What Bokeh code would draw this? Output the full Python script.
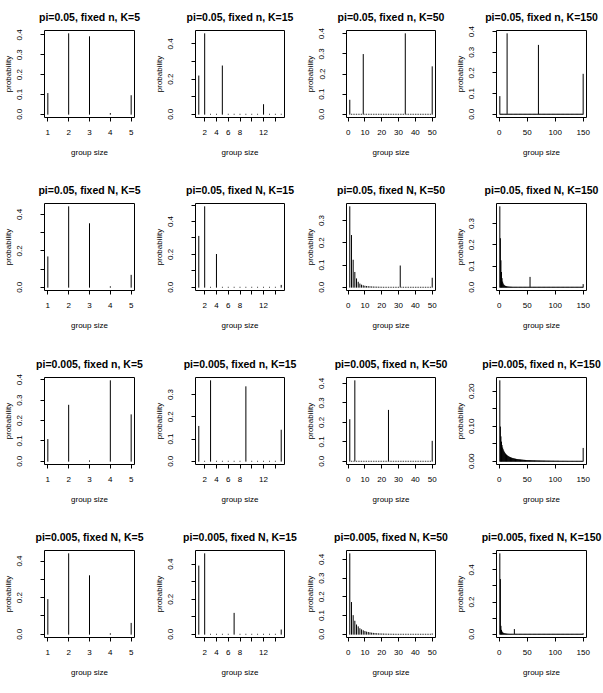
from bokeh.plotting import figure
from bokeh.layouts import column, row
from bokeh.models import Range1d, FixedTicker
from bokeh.embed import file_html
from bokeh.resources import INLINE

FONT = "Liberation Sans"

titles = [
    "pi=0.05, fixed n, K=5", "pi=0.05, fixed n, K=15", "pi=0.05, fixed n, K=50", "pi=0.05, fixed n, K=150",
    "pi=0.05, fixed N, K=5", "pi=0.05, fixed N, K=15", "pi=0.05, fixed N, K=50", "pi=0.05, fixed N, K=150",
    "pi=0.005, fixed n, K=5", "pi=0.005, fixed n, K=15", "pi=0.005, fixed n, K=50", "pi=0.005, fixed n, K=150",
    "pi=0.005, fixed N, K=5", "pi=0.005, fixed N, K=15", "pi=0.005, fixed N, K=50", "pi=0.005, fixed N, K=150",
]
K_values = [5, 15, 50, 150]

# probabilities for group sizes 1,2,3,... (head) plus isolated spikes (size, prob); other sizes are 0
head_11 = [0.105, 0.406, 0.391, 0.004, 0.094]
spike_x_11, spike_p_11 = [], []
head_12 = [0.218, 0.458]
spike_x_12, spike_p_12 = [5, 12], [0.275, 0.055]
head_13 = [0.070]
spike_x_13, spike_p_13 = [9, 34, 50], [0.297, 0.400, 0.236]
head_14 = [0.086]
spike_x_14, spike_p_14 = [14, 70, 150], [0.390, 0.334, 0.194]

head_21 = [0.167, 0.442, 0.349, 0.003, 0.066]
spike_x_21, spike_p_21 = [], []
head_22 = [0.310, 0.490, 0.0, 0.200]
spike_x_22, spike_p_22 = [15], [0.012]
head_23 = [0.362, 0.233, 0.122, 0.067, 0.038, 0.023, 0.015, 0.010, 0.007, 0.005,
           0.004, 0.003, 0.0025, 0.002, 0.0015, 0.0012, 0.001, 0.0008, 0.0006, 0.0005]
spike_x_23, spike_p_23 = [31, 50], [0.096, 0.041]
head_24 = [0.379, 0.229, 0.125, 0.070, 0.041, 0.025, 0.016, 0.011, 0.008, 0.006,
           0.0045, 0.0035, 0.0028, 0.0022, 0.0018, 0.0015, 0.0012, 0.0010, 0.0008, 0.0007,
           0.0006, 0.0005, 0.0004, 0.0003, 0.0003]
spike_x_24, spike_p_24 = [55, 150], [0.047, 0.013]

head_31 = [0.107, 0.275, 0.002, 0.395, 0.228]
spike_x_31, spike_p_31 = [], []
head_32 = [0.157]
spike_x_32, spike_p_32 = [3, 9, 15], [0.362, 0.335, 0.140]
head_33 = [0.214]
spike_x_33, spike_p_33 = [4, 24, 50], [0.414, 0.262, 0.103]
head_34 = [0.230, 0.098, 0.070, 0.055, 0.045, 0.038, 0.033, 0.029, 0.026, 0.023,
           0.021, 0.019, 0.0175, 0.016, 0.0148, 0.0137, 0.0127, 0.0118, 0.011, 0.0103,
           0.0096, 0.009, 0.0085, 0.008, 0.0075, 0.0071, 0.0067, 0.0063, 0.006, 0.0057,
           0.0054, 0.0051, 0.0049, 0.0046, 0.0044, 0.0042, 0.004, 0.0038, 0.0036, 0.0035,
           0.0033, 0.0032, 0.003, 0.0029, 0.0028, 0.0027, 0.0026, 0.0025, 0.0024, 0.0023,
           0.0022, 0.0021, 0.002, 0.0019, 0.0019, 0.0018, 0.0017, 0.0017, 0.0016, 0.0015,
           0.0015, 0.0014, 0.0014, 0.0013, 0.0013, 0.0012, 0.0012, 0.0011, 0.0011, 0.001,
           0.001, 0.001, 0.0009, 0.0009, 0.0009, 0.0008, 0.0008, 0.0008, 0.0007, 0.0007,
           0.0007, 0.0007, 0.0006, 0.0006, 0.0006, 0.0006, 0.0005, 0.0005, 0.0005, 0.0005,
           0.0005, 0.0004, 0.0004, 0.0004, 0.0004, 0.0004, 0.0004, 0.0003, 0.0003, 0.0003,
           0.0003, 0.0003, 0.0003, 0.0003, 0.0003, 0.0003, 0.0002, 0.0002, 0.0002, 0.0002,
           0.0002, 0.0002, 0.0002, 0.0002, 0.0002, 0.0002, 0.0002, 0.0002, 0.0002, 0.0002,
           0.0001, 0.0001, 0.0001, 0.0001, 0.0001, 0.0001, 0.0001, 0.0001, 0.0001, 0.0001,
           0.0001, 0.0001, 0.0001, 0.0001, 0.0001, 0.0001, 0.0001, 0.0001, 0.0001, 0.0001,
           0.0001, 0.0001, 0.0001, 0.0001, 0.0001, 0.0001, 0.0001, 0.0001, 0.0001]
spike_x_34, spike_p_34 = [150], [0.037]

head_41 = [0.190, 0.440, 0.320, 0.003, 0.060]
spike_x_41, spike_p_41 = [], []
head_42 = [0.390, 0.460]
spike_x_42, spike_p_42 = [7, 15], [0.120, 0.025]
head_43 = [0.430, 0.170, 0.100, 0.070, 0.050, 0.040, 0.030, 0.024, 0.019, 0.015,
           0.012, 0.010, 0.008, 0.0065, 0.0053, 0.0043, 0.0035, 0.0028, 0.0023, 0.0019,
           0.0015, 0.0012, 0.0010, 0.0008, 0.0007, 0.0006, 0.0005, 0.0004, 0.0003, 0.0003]
spike_x_43, spike_p_43 = [50], [0.002]
head_44 = [0.500, 0.340, 0.050, 0.025, 0.015, 0.010, 0.007, 0.005, 0.004, 0.003,
           0.0025, 0.002, 0.0015, 0.0012, 0.001, 0.0008, 0.0006, 0.0005, 0.0004, 0.0003]
spike_x_44, spike_p_44 = [27, 150], [0.030, 0.004]

heads = [head_11, head_12, head_13, head_14, head_21, head_22, head_23, head_24,
         head_31, head_32, head_33, head_34, head_41, head_42, head_43, head_44]
spikes_x = [spike_x_11, spike_x_12, spike_x_13, spike_x_14, spike_x_21, spike_x_22, spike_x_23, spike_x_24,
            spike_x_31, spike_x_32, spike_x_33, spike_x_34, spike_x_41, spike_x_42, spike_x_43, spike_x_44]
spikes_p = [spike_p_11, spike_p_12, spike_p_13, spike_p_14, spike_p_21, spike_p_22, spike_p_23, spike_p_24,
            spike_p_31, spike_p_32, spike_p_33, spike_p_34, spike_p_41, spike_p_42, spike_p_43, spike_p_44]

# y ticks and the labels R kept
yt_4 = [0.0, 0.1, 0.2, 0.3, 0.4]
yt_3 = [0.0, 0.1, 0.2, 0.3]
yt_5 = [0.0, 0.1, 0.2, 0.3, 0.4, 0.5]
yt_02 = [0.0, 0.05, 0.1, 0.15, 0.2]
yl_4all = ["0.0", "0.1", "0.2", "0.3", "0.4"]
yl_4alt = ["0.0", "", "0.2", "", "0.4"]
yl_3all = ["0.0", "0.1", "0.2", "0.3"]
yl_5alt = ["0.0", "", "0.2", "", "0.4", ""]
yl_02 = ["0.00", "", "0.10", "", "0.20"]
y_ticks = [yt_4, yt_4, yt_4, yt_4, yt_4, yt_5, yt_3, yt_3,
           yt_4, yt_3, yt_4, yt_02, yt_4, yt_4, yt_4, yt_5]
y_labels = [yl_4all, yl_4alt, yl_4all, yl_4all, yl_4alt, yl_5alt, yl_3all, yl_3all,
            yl_4all, yl_3all, yl_4all, yl_02, yl_4alt, yl_4alt, yl_4all, yl_5alt]

x_ticks = {5: [1, 2, 3, 4, 5], 15: [2, 4, 6, 8, 10, 12, 14],
           50: [0, 10, 20, 30, 40, 50], 150: [0, 50, 100, 150]}
x_labels = {5: ["1", "2", "3", "4", "5"], 15: ["2", "4", "6", "8", "", "12", ""],
            50: ["0", "10", "20", "30", "40", "50"], 150: ["0", "50", "100", "150"]}

col_w = [151, 151, 150, 151]
col_lb = [44, 43, 43, 44]
col_rb = [17, 18, 17, 17]
row_h = [173, 174, 173, 172]
row_tb = [30, 30, 30, 30]
row_bb = [56, 57, 56, 55]


def make_panel(i):
    r, c = divmod(i, 4)
    K = K_values[c]
    probs = [0.0] * K
    for j, v in enumerate(heads[i]):
        probs[j] = v
    for sx, sp in zip(spikes_x[i], spikes_p[i]):
        probs[sx - 1] = sp
    sizes = list(range(1, K + 1))
    ymax = max(probs)
    dx = (K - 1) * 0.04
    p = figure(width=col_w[c], height=row_h[r], output_backend="svg", toolbar_location=None,
               x_range=Range1d(1 - dx, K + dx), y_range=Range1d(-0.04 * ymax, 1.04 * ymax),
               min_border_left=col_lb[c], min_border_right=col_rb[c],
               min_border_top=row_tb[r], min_border_bottom=row_bb[r])
    p.segment(x0=sizes, y0=[0.0] * K, x1=sizes, y1=probs,
              line_color="black", line_width=1, line_cap="round")
    p.xgrid.visible = False
    p.ygrid.visible = False
    p.outline_line_color = "black"
    p.outline_line_width = 1
    p.background_fill_color = "white"
    p.border_fill_color = "white"

    p.title.text = titles[i]
    p.title.align = "center"
    p.title.text_font = FONT
    p.title.text_font_size = "10.5px"
    p.title.text_font_style = "bold"
    p.title.text_color = "black"
    p.title.standoff = 16

    xa = p.xaxis[0]
    ya = p.yaxis[0]
    for ax in (xa, ya):
        ax.axis_line_color = None
        ax.major_tick_out = 4
        ax.major_tick_in = 0
        ax.major_tick_line_color = "black"
        ax.minor_tick_line_color = None
        ax.major_label_text_font = FONT
        ax.major_label_text_font_size = "8px"
        ax.major_label_text_color = "black"
        ax.axis_label_text_font = FONT
        ax.axis_label_text_font_size = "8px"
        ax.axis_label_text_font_style = "normal"
        ax.axis_label_text_color = "black"
    xa.axis_label = "group size"
    xa.ticker = FixedTicker(ticks=x_ticks[K])
    xa.major_label_overrides = {t: l for t, l in zip(x_ticks[K], x_labels[K])}
    xa.major_label_standoff = 8
    xa.axis_label_standoff = 10
    ya.axis_label = "probability"
    ya.ticker = FixedTicker(ticks=y_ticks[i])
    ya.major_label_overrides = {t: l for t, l in zip(y_ticks[i], y_labels[i])}
    ya.major_label_orientation = "vertical"
    ya.major_label_standoff = 18
    ya.axis_label_standoff = 2
    return p


panels = [make_panel(i) for i in range(16)]
layout = column(*[row(*panels[r * 4:(r + 1) * 4]) for r in range(4)])

open("out.html", "w").write(file_html(layout, INLINE))
